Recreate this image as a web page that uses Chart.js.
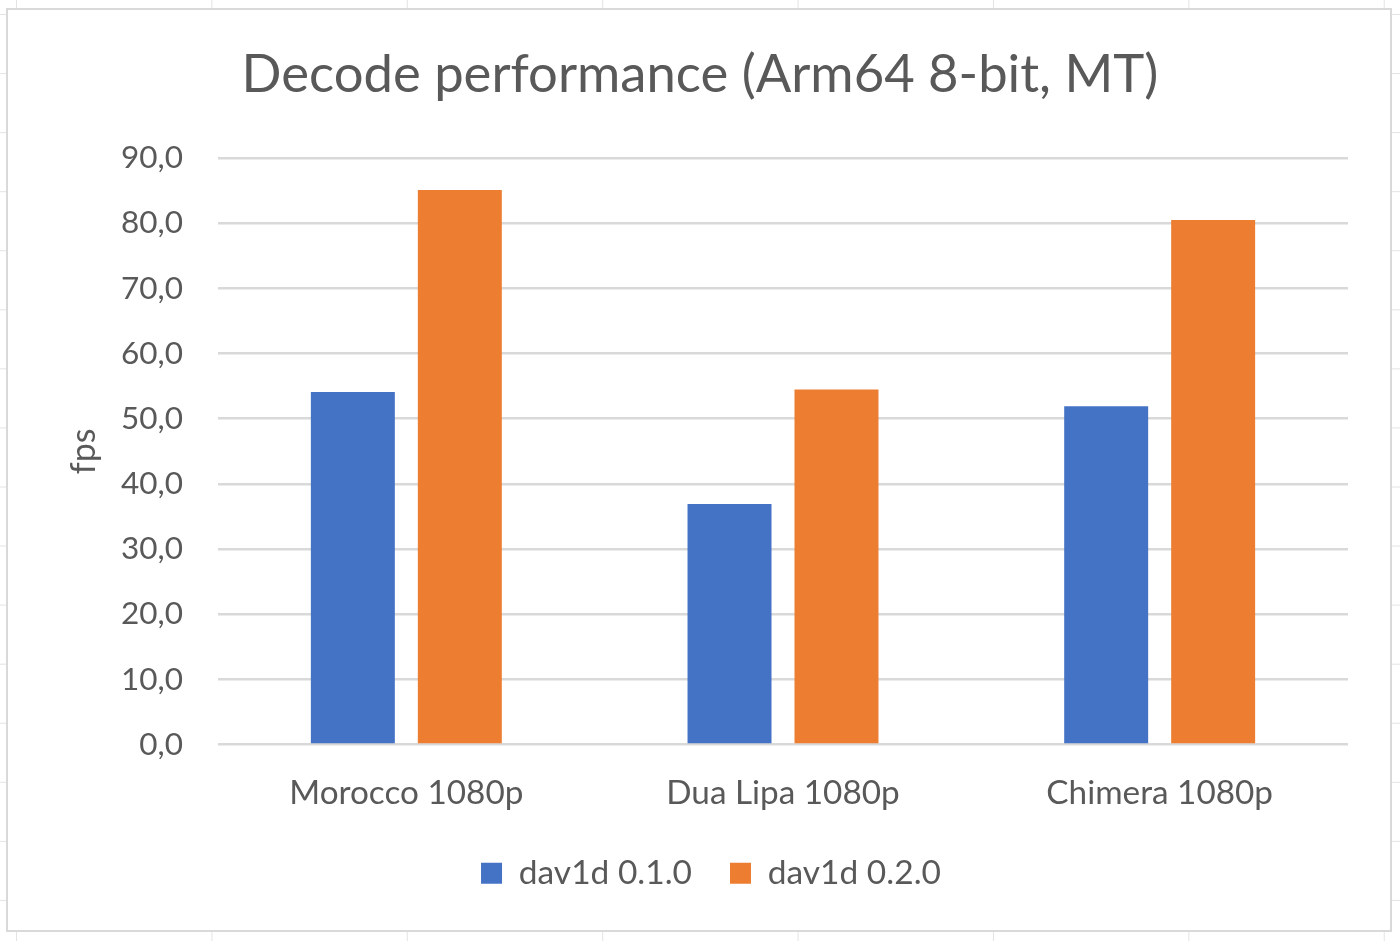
<!DOCTYPE html>
<html>
<head>
<meta charset="utf-8">
<script src="https://cdn.jsdelivr.net/npm/chart.js@4"></script>
<style>
  html, body { margin: 0; padding: 0; }
  body {
    width: 1400px; height: 941px; overflow: hidden; position: relative;
    background-color: #fff;
    background-image:
      linear-gradient(to right, #e3e3e3 1px, transparent 1px),
      linear-gradient(to bottom, #e3e3e3 1px, transparent 1px);
    background-size: 195.4px 59.07px;
    background-position: 16px 14px;
  }
  #box {
    position: absolute; left: 6px; top: 8px;
    width: 1382px; height: 920px;
    border: 2px solid #d9d9d9; background: #fff;
  }
</style>
</head>
<body>
<div id="box"><canvas id="chart" width="1382" height="920"></canvas></div>
<script>
// values
var categories = ['Morocco 1080p', 'Dua Lipa 1080p', 'Chimera 1080p'];
var seriesNames = ['dav1d 0.1.0', 'dav1d 0.2.0'];
var v010 = [54.1, 36.9, 51.9];
var v020 = [85.1, 54.5, 80.5];
var yTicks = [0, 10, 20, 30, 40, 50, 60, 70, 80, 90];

var FONT = 'Lato, "Open Sans", sans-serif';
var GREY = '#595959';

// excel centres title and legend a bit more to the right than chart.js does
var shiftBoxes = {
    id: 'shiftBoxes',
    afterLayout: function (chart) {
        if (chart.titleBlock) { chart.titleBlock.left += 22; chart.titleBlock.right += 22; }
        if (chart.legend) { chart.legend.left += 33; chart.legend.right += 33; }
    }
};

var ctx = document.getElementById('chart');
new Chart(ctx, {
    type: 'bar',
    data: {
        labels: categories,
        datasets: [{
            label: seriesNames[0],
            data: v010,
            backgroundColor: '#4472C4',
            categoryPercentage: 0.568,
            barPercentage: 0.785
        }, {
            label: seriesNames[1],
            data: v020,
            backgroundColor: '#ED7D31',
            categoryPercentage: 0.568,
            barPercentage: 0.785
        }]
    },
    options: {
        responsive: false,
        animation: false,
        layout: { padding: { left: 0, right: 42, top: 0, bottom: 30 } },
        plugins: {
            title: {
                display: true,
                text: 'Decode performance (Arm64 8-bit, MT)',
                color: GREY,
                font: { family: FONT, size: 52.6, weight: 'normal' },
                padding: { top: 33, bottom: 52 }
            },
            legend: {
                position: 'bottom',
                labels: {
                    color: GREY,
                    font: { family: FONT, size: 33.5 },
                    boxWidth: 21,
                    boxHeight: 21,
                    padding: 38
                }
            },
            tooltip: { enabled: false }
        },
        scales: {
            x: {
                grid: { display: false, drawTicks: false },
                border: { display: false },
                ticks: { color: GREY, font: { family: FONT, size: 33.3 }, padding: 29 },
                afterFit: function (s) { s.height = 74; }
            },
            y: {
                min: 0,
                max: 90,
                afterBuildTicks: function (s) {
                    s.ticks = yTicks.map(function (v) { return { value: v }; });
                },
                grid: { color: '#d9d9d9', lineWidth: 2.5, drawTicks: false },
                border: { display: false },
                ticks: {
                    color: GREY,
                    font: { family: FONT, size: 31.5 },
                    padding: 35,
                    callback: function (v) { return v.toFixed(1).replace('.', ','); }
                },
                title: {
                    display: true,
                    text: 'fps',
                    color: GREY,
                    font: { family: FONT, size: 34 },
                    padding: { top: 56 }
                },
                afterFit: function (s) { s.width = 210; }
            }
        }
    },
    plugins: [shiftBoxes]
});
</script>
</body>
</html>
